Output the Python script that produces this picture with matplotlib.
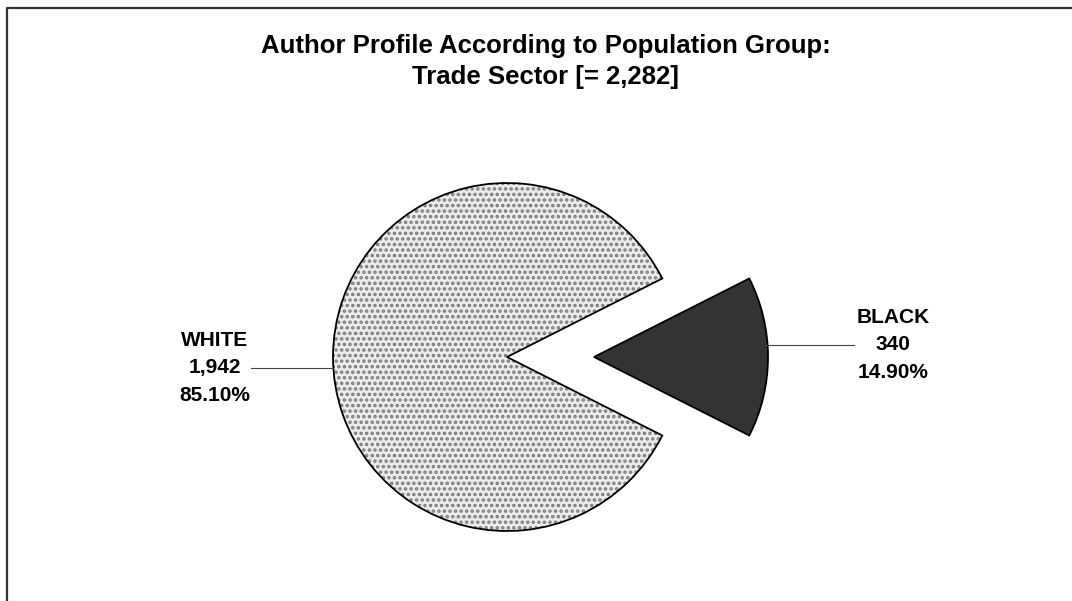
import matplotlib.pyplot as plt
import numpy as np

plt.rcParams['font.family'] = ['Liberation Sans', 'DejaVu Sans']
plt.rcParams['hatch.linewidth'] = 1.7

# data
groups = ['WHITE', 'BLACK']
counts = [1942, 340]
percents = [85.10, 14.90]
title_lines = ['Author Profile According to Population Group:', 'Trade Sector [= 2,282]']

H = 601
fig = plt.figure(figsize=(10.72, 6.01), dpi=100)
ax = fig.add_axes([0, 0, 1, 1])

center = (507, H - 357)
radius = 174
start = 360 * counts[1] / sum(counts) / 2
# pie's explode is in data units here, so scale by radius
expl = [0, 0.5 * radius]

# dotted fill first, then the black outline on top
wedges, _ = ax.pie(counts, center=center, radius=radius, startangle=start,
                   explode=expl, colors=['#ececec', '#333333'],
                   wedgeprops=dict(linewidth=0, edgecolor='#7a7a7a'))
wedges[0].set_hatch('...')
ax.pie(counts, center=center, radius=radius, startangle=start,
       explode=expl,
       wedgeprops=dict(fill=False, linewidth=1.3, edgecolor='black'))

ax.set_xlim(0, 1072)
ax.set_ylim(0, H)
ax.set_aspect('auto')
ax.axis('off')

# labels with leader lines
lab_pos = [(215, H - 368), (893, H - 345)]
lead = [(251, 333), (766, 854)]
for i, g in enumerate(groups):
    x, y = lab_pos[i]
    txt = '%s\n%s\n%.2f%%' % (g, format(counts[i], ','), percents[i])
    ax.text(x, y, txt, ha='center', va='center', fontsize=15,
            fontweight='bold', linespacing=1.55)
    ax.plot(lead[i], [y, y], color='#444444', lw=0.8)

# title
ax.text(546, H - 46, title_lines[0], ha='center', va='center',
        fontsize=18.5, fontweight='bold')
ax.text(546, H - 77, title_lines[1], ha='center', va='center',
        fontsize=18.5, fontweight='bold')

# chart area border (cut off at right and bottom)
ax.plot([6.5, 6.5, 1080], [-5, H - 8, H - 8], color='#333333', lw=1.6,
        clip_on=False)

fig.savefig('out.png', dpi=100)
